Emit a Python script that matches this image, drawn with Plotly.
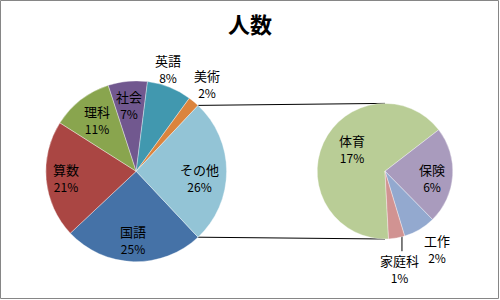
import math
import plotly.graph_objects as go

# ---------------- data ----------------
title_text = "人数"
main_labels = ["国語", "算数", "理科", "社会", "英語", "美術", "その他"]
main_values = [25, 21, 11, 7, 8, 2]          # その他 = sum of sub_values
sub_labels = ["体育", "保険", "工作", "家庭科"]
sub_values = [17, 6, 2, 1]

# ---------------- style ----------------
main_colors = ["#4572A7", "#AA4643", "#89A54E", "#71588F", "#4198AF", "#DB843D", "#93C4D6"]
sub_colors = ["#B9CD96", "#A99BBD", "#93A9CF", "#D19392"]
FONT = "Noto Sans CJK JP"
W, H = 500, 300
main_c, main_r = (136.2, 171.3), 90.4
sub_c, sub_r = (385.0, 171.2), 67.8
sub_rotation = -183.0
# label placement (radius factor, angle tweak in degrees)
main_lab = [(0.75, 0.7), (0.78, 0.4), (0.725, 0.7), (0.74, -0.8), (1.19, -4.2), (1.25, -0.8), (0.70, 5.2)]
sub_lab = [(0.59, 10.7), (0.695, 3.7), (1.375, -3.0), (1.455, 1.2)]

other = sum(sub_values)
main_vals = main_values + [other]
total = sum(main_vals)
main_rotation = 450 - 360.0 * (sum(main_values) + other / 2) / total


def dom(c, r):
    return dict(x=[(c[0] - r) / W, (c[0] + r) / W], y=[1 - (c[1] + r) / H, 1 - (c[1] - r) / H])


def polar(c, r, ang):
    a = math.radians(ang)
    return c[0] + r * math.sin(a), c[1] - r * math.cos(a)


def mids(vals, rot):
    out, acc, s = [], 0.0, sum(vals)
    for v in vals:
        out.append(rot + 360.0 * (acc + v / 2) / s)
        acc += v
    return out


fig = go.Figure()
fig.add_trace(go.Pie(
    labels=main_labels, values=main_vals, sort=False, direction="clockwise",
    rotation=main_rotation, textinfo="none", hoverinfo="label+value",
    marker=dict(colors=main_colors, line=dict(color="rgba(255,255,255,0.6)", width=0.6)),
    domain=dom(main_c, main_r), showlegend=False,
))
fig.add_trace(go.Pie(
    labels=sub_labels, values=sub_values, sort=False, direction="clockwise",
    rotation=sub_rotation, textinfo="none", hoverinfo="label+value",
    marker=dict(colors=sub_colors, line=dict(color="rgba(255,255,255,0.6)", width=0.6)),
    domain=dom(sub_c, sub_r), showlegend=False,
))

annotations = []


def add_labels(labels, vals, c, r, rot, lab):
    ms = mids(vals, rot)
    pos = []
    for name, v, m, (f, da) in zip(labels, vals, ms, lab):
        x, y = polar(c, r * f, m + da)
        pct = round(v / total * 100)
        annotations.append(dict(
            x=x, y=y, xref="x", yref="y", showarrow=False,
            text=f"{name}<br><span style='font-size:12px'>{pct}%</span>",
            font=dict(family=FONT, size=13, color="#000000"),
            xanchor="center", yanchor="middle", align="center",
        ))
        pos.append((x, y))
    return pos


add_labels(main_labels, main_vals, main_c, main_r, main_rotation, main_lab)
sub_pos = add_labels(sub_labels, sub_values, sub_c, sub_r, sub_rotation, sub_lab)

# connector lines between the その他 slice and the secondary pie
o_start = main_rotation + 360.0 * sum(main_values) / total
o_end = main_rotation + 360.0
p1 = polar(main_c, main_r, o_start)
p2 = polar(main_c, main_r, o_end)
q1 = polar(sub_c, sub_r, 0)
q2 = polar(sub_c, sub_r, 180)
for a, b in [(p1, q1), (p2, q2)]:
    fig.add_trace(go.Scatter(x=[a[0], b[0]], y=[a[1], b[1]], mode="lines",
                             line=dict(color="#000000", width=1), hoverinfo="skip", showlegend=False))

# leader line for 家庭科
lx, ly = sub_pos[3]
line_x = lx + 2
y_edge = sub_c[1] + math.sqrt(sub_r ** 2 - (line_x - sub_c[0]) ** 2) - 1
fig.add_trace(go.Scatter(x=[line_x, line_x], y=[y_edge, ly - 17.5], mode="lines",
                         line=dict(color="#000000", width=1), hoverinfo="skip", showlegend=False))

fig.update_layout(
    width=W, height=H, margin=dict(l=0, r=0, t=0, b=0),
    paper_bgcolor="white", plot_bgcolor="rgba(0,0,0,0)",
    xaxis=dict(range=[0, W], visible=False, fixedrange=True, domain=[0, 1]),
    yaxis=dict(range=[H, 0], visible=False, fixedrange=True, domain=[0, 1]),
    title=dict(text=f"<b>{title_text}</b>", x=0.5, xanchor="center", y=1 - 25 / H, yanchor="middle",
               font=dict(family=FONT, size=22, color="#000000")),
    annotations=annotations,
    shapes=[dict(type="rect", xref="x", yref="y", x0=0.5, y0=0.5, x1=498.5, y1=298.5,
                 line=dict(color="#868686", width=1), fillcolor="rgba(0,0,0,0)", layer="above")],
)

fig.write_html("out.html")
